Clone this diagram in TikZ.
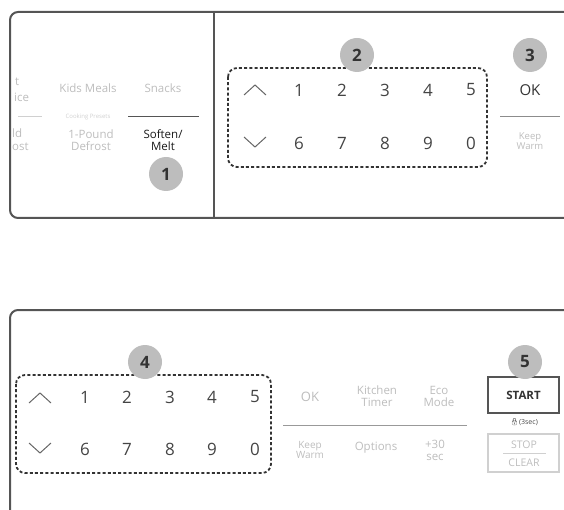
\documentclass[tikz,border=0pt]{standalone}
\usepackage{fontspec}
\setmainfont{Open Sans}
\newfontfamily\emoji{Noto Emoji}
\definecolor{framec}{HTML}{555555}
\definecolor{digitc}{HTML}{444444}
\definecolor{fadec}{HTML}{BDBDBD}
\definecolor{fadelc}{HTML}{D0D0D0}
\definecolor{badgec}{HTML}{BDBDBD}
\definecolor{badgetext}{HTML}{333333}
\definecolor{chevc}{HTML}{666666}
\begin{document}
\begin{tikzpicture}[x=1pt,y=-1pt,
  panel/.style={draw=framec, line width=2pt, rounded corners=8pt},
  dotbox/.style={draw=black!80, line width=1.8pt, rounded corners=9pt, dash pattern=on 3pt off 2.2pt},
  digit/.style={text=digitc, font=\fontsize{17}{17}\selectfont, inner sep=0pt},
  faded/.style={text=fadec, font=\fontsize{11.5}{13}\selectfont, align=center, inner sep=0pt},
  dark/.style={text=black!90, font=\fontsize{11.5}{13}\selectfont, align=center, inner sep=0pt},
  badge/.style={circle, fill=badgec, minimum size=34pt, inner sep=0pt, text=badgetext, font=\bfseries\fontsize{17}{17}\selectfont},
  chev/.style={draw=chevc, line width=1pt},
  sepdark/.style={draw=framec, line width=1pt},
  seplight/.style={draw=fadelc, line width=1pt}]
\useasboundingbox (0,0) rectangle (564,510);

% ---------- top panel ----------
\draw[panel] (566,12) -- (10,12) -- (10,218) -- (566,218);
\draw[draw=framec, line width=2pt] (214,12) -- (214,218);

% cooking presets (left part)
\node[faded, anchor=west] (pt) at (15,82) {t};
\node[faded, anchor=west] (pice) at (14,97) {ice};
\node[faded] (kids) at (88,88) {Kids Meals};
\node[faded] (snacks) at (163,88) {Snacks};
\draw[seplight] (18,117) -- (42,117);
\node[text=fadelc, font=\fontsize{6}{6}\selectfont, inner sep=0pt] (cp) at (88,117) {Cooking Presets};
\draw[sepdark] (128,117) -- (199,117);
\node[faded, anchor=west] (pld) at (12,133) {ld};
\node[faded, anchor=west] (post) at (12,147) {ost};
\node[faded] (pound) at (91,140) {1-Pound\\[-1pt]Defrost};
\node[dark] (soften) at (163,140) {Soften/\\[-1pt]Melt};
\node[badge] (b1) at (166,174) {1};

% number pad (top)
\draw[dotbox] (228,68) rectangle (487,167);
\draw[chev] (244,95) -- (255,85) -- (266,95);
\draw[chev] (244,137) -- (255,147) -- (266,137);
\node[digit] (t1) at (299,90) {1};
\node[digit] (t2) at (342,90) {2};
\node[digit] (t3) at (385,90) {3};
\node[digit] (t4) at (428,90) {4};
\node[digit] (t5) at (471,90) {5};
\node[digit] (t6) at (299,143) {6};
\node[digit] (t7) at (342,143) {7};
\node[digit] (t8) at (385,143) {8};
\node[digit] (t9) at (428,143) {9};
\node[digit] (t0) at (471,143) {0};
\node[badge] (b2) at (357,55) {2};

% OK / Keep Warm (top)
\node[badge] (b3) at (530,55) {3};
\node[text=black!80, font=\fontsize{15}{15}\selectfont, inner sep=0pt] (ok1) at (530,90) {OK};
\draw[sepdark, draw=black!45] (500,117) -- (560,117);
\node[faded, font=\fontsize{9.5}{10.5}\selectfont] (kw1) at (530,141) {Keep\\[-1pt]Warm};

% ---------- bottom panel ----------
\draw[panel] (566,310) -- (10,310) -- (10,512);

\draw[dotbox] (16,375) rectangle (271,473);
\draw[chev] (29,403) -- (40,393) -- (51,403);
\draw[chev] (29,443) -- (40,453) -- (51,443);
\node[digit] (d1) at (85,397) {1};
\node[digit] (d2) at (127,397) {2};
\node[digit] (d3) at (170,397) {3};
\node[digit] (d4) at (212,397) {4};
\node[digit] (d5) at (255,397) {5};
\node[digit] (d6) at (85,449) {6};
\node[digit] (d7) at (127,449) {7};
\node[digit] (d8) at (170,449) {8};
\node[digit] (d9) at (212,449) {9};
\node[digit] (d0) at (255,449) {0};
\node[badge] (b4) at (145,362) {4};

% function keys
\node[faded, font=\fontsize{13}{13}\selectfont] (ok2) at (310,397) {OK};
\node[faded] (kt) at (377,396) {Kitchen\\[-1pt]Timer};
\node[faded] (eco) at (439,396) {Eco\\[-1pt]Mode};
\draw[sepdark, draw=black!40] (283,425) -- (467,425);
\node[faded, font=\fontsize{10}{11}\selectfont] (kw2) at (310,450) {Keep\\[-1pt]Warm};
\node[faded] (opt) at (376,448) {Options};
\node[faded] (p30) at (435,450) {+30\\[-1pt]sec};

% start / stop
\node[draw=framec, line width=1.5pt, minimum width=71pt, minimum height=36pt, inner sep=0pt,
      font=\bfseries\fontsize{11.5}{11.5}\selectfont, text=black!80] (start) at (523.5,395) {START};
\node[badge] (b5) at (525,362) {5};
\node[inner sep=0pt, text=black!70, font=\fontsize{7}{7}\selectfont] (lock) at (524,422) {{\emoji 🔒}(3sec)};
\node[draw=fadelc, line width=1.2pt, minimum width=71pt, minimum height=38pt, inner sep=0pt] (stop) at (523.5,453) {};
\node[faded, font=\fontsize{10.5}{10.5}\selectfont] (stopt) at (524,445) {STOP};
\node[faded, font=\fontsize{10.5}{10.5}\selectfont] (cleart) at (524,463) {CLEAR};
\draw[seplight] (503,453.5) -- (546,453.5);
\end{tikzpicture}
\end{document}
